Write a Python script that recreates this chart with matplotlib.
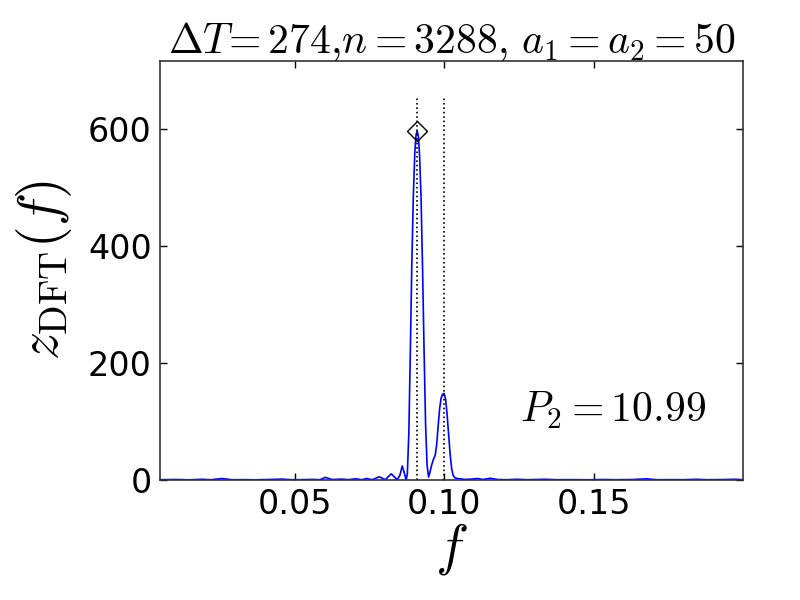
import matplotlib
matplotlib.use("Agg")
import matplotlib.pyplot as plt
import numpy as np

# ---- data ----
freq = [0.005, 0.010, 0.015, 0.019, 0.022, 0.0257, 0.029, 0.033, 0.037, 0.041,
        0.0457, 0.049, 0.052, 0.056, 0.0585, 0.0603, 0.0625, 0.0655, 0.068, 0.0705,
        0.0725, 0.0740, 0.0760, 0.0783, 0.0803, 0.0823, 0.0843, 0.0852, 0.0860, 0.0867,
        0.0873, 0.0877, 0.0882, 0.0887, 0.0892, 0.0897, 0.0902, 0.0906, 0.0910, 0.0914,
        0.0918, 0.0923, 0.0928, 0.0933, 0.0938, 0.0943, 0.0948, 0.0952, 0.0958, 0.0964,
        0.0970, 0.0975, 0.0980, 0.0985, 0.0990, 0.0995, 0.1000, 0.1005, 0.1010, 0.1015,
        0.1020, 0.1025, 0.1030, 0.1037, 0.1045, 0.107, 0.109, 0.1113, 0.113, 0.1153,
        0.118, 0.121, 0.1243, 0.128, 0.1337, 0.138, 0.143, 0.148, 0.153, 0.158,
        0.163, 0.1677, 0.171, 0.176, 0.180, 0.1843, 0.188, 0.192, 0.1977, 0.200]
z_dft = [0.5, 0.8, 0.4, 1.2, 0.5, 2.5, 0.5, 0.6, 0.4, 0.8,
         1.5, 0.5, 0.6, 1.0, 0.5, 4.5, 0.8, 1.5, 0.6, 2.0,
         0.5, 2.5, 0.5, 5.5, 0.5, 10.5, 0.5, 8.0, 24.0, 12.0,
         0.5, 10.0, 80.0, 220.0, 370.0, 485.0, 560.0, 590.0, 597.0, 588.0,
         555.0, 480.0, 360.0, 220.0, 95.0, 25.0, 5.0, 12.0, 25.0, 35.0,
         42.0, 60.0, 92.0, 122.0, 140.0, 147.0, 148.0, 138.0, 112.0, 78.0,
         45.0, 20.0, 8.0, 3.5, 2.5, 1.0, 1.5, 2.5, 0.8, 3.0,
         0.8, 0.5, 1.2, 0.5, 1.2, 0.5, 0.6, 0.4, 0.8, 0.5,
         0.8, 2.0, 0.5, 0.6, 0.5, 1.2, 0.5, 0.7, 1.2, 0.5]
true_freqs = [1.0 / 11.0, 0.1]
period_label = "10.99"
title_text = r'$\Delta T\!=274{,}n=3288{,}\ a_1=a_2=50$'
x_ticks = [0.05, 0.10, 0.15]
y_ticks = [0, 200, 400, 600]

plt.rcParams['mathtext.fontset'] = 'cm'
plt.rcParams['font.family'] = ['DejaVu Sans']

fig = plt.figure(figsize=(8, 6), dpi=100)
ax = fig.add_axes([0.2, 0.2, 0.729, 0.698])

ax.plot(freq, z_dft, color='#0000ff', lw=1.2)
zmax = max(z_dft)
fmax = freq[z_dft.index(zmax)]
ax.plot([fmax], [zmax], marker='D', ms=10.5, mfc='none', mec='black', mew=1.0, ls='none')
for tf in true_freqs:
    ax.plot([tf, tf], [0, 1.1 * zmax], color='black', ls=':', lw=1.2)

ax.text(0.1255, 100, r'$P_2=' + period_label + '$', fontsize=30, ha='left', va='baseline')

ax.set_xlim(0.005, 0.2)
ax.set_ylim(0, 1.2 * zmax)
ax.set_xticks(x_ticks)
ax.set_xticklabels(['%.2f' % t for t in x_ticks])
ax.set_yticks(y_ticks)
ax.tick_params(direction='in', top=True, right=True, length=5, width=1,
               labelsize=24, pad=6)
for s in ax.spines.values():
    s.set_linewidth(1.2)
    s.set_color('#333333')

ax.set_xlabel(r'$f$', fontsize=40, labelpad=0)
ax.set_ylabel(r'$z_{\rm DFT}(f)$', fontsize=40, labelpad=10)
ax.set_title(title_text, fontsize=30, pad=6)

fig.savefig('out.png', dpi=100, facecolor='white')
